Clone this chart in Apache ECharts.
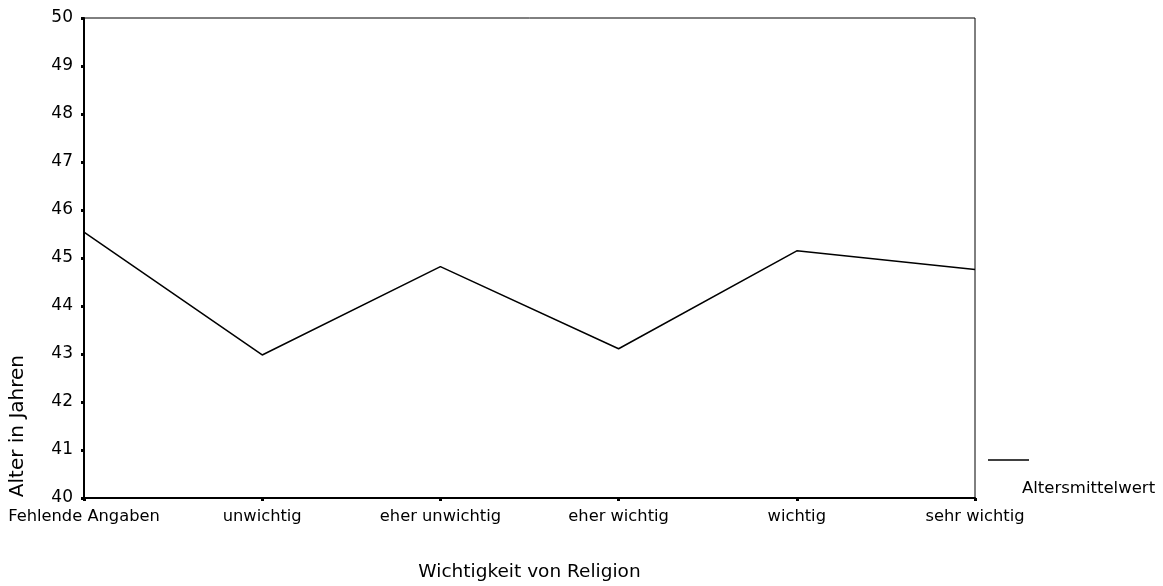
<!DOCTYPE html>
<html><head><meta charset="utf-8">
<script src="https://cdn.jsdelivr.net/npm/echarts@6/dist/echarts.min.js"></script>
<style>html,body{margin:0;padding:0;background:#fff}#c{width:1163px;height:586px}</style>
</head><body><div id="c"></div>
<script>
const categories = ['Fehlende Angaben','unwichtig','eher unwichtig','eher wichtig','wichtig','sehr wichtig'];
const altersmittelwert = [45.54, 42.98, 44.82, 43.11, 45.15, 44.76];
const seriesName = 'Altersmittelwert';
const FONT = 'DejaVu Sans';
const chart = echarts.init(document.getElementById('c'));
chart.setOption({
  animation:false,
  textStyle:{fontFamily:FONT},
  grid:{left:84,right:188,top:18,bottom:88,show:true,borderColor:'#000',borderWidth:1,
    containLabel:false,outerBoundsMode:'none'},
  xAxis:{type:'category',data:categories,boundaryGap:false,
    name:'Wichtigkeit von Religion',nameLocation:'middle',nameGap:65,
    nameTextStyle:{fontSize:18.5,color:'#000',fontFamily:FONT},
    axisLine:{lineStyle:{color:'#000',width:2}},
    axisTick:{show:true,length:3,lineStyle:{color:'#000',width:3}},
    axisLabel:{fontSize:16.3,color:'#000',margin:11,fontFamily:FONT,interval:0},
    splitLine:{show:false}},
  yAxis:{type:'value',min:40,max:50,interval:1,
    axisLine:{show:true,lineStyle:{color:'#000',width:2}},
    axisTick:{show:true,length:3,lineStyle:{color:'#000',width:3}},
    axisLabel:{fontSize:17,color:'#000',margin:11,fontFamily:FONT},
    splitLine:{show:false}},
  graphic:[
    {type:'text',left:8,top:355,rotation:Math.PI/2,
      style:{text:'Alter in Jahren',fontSize:20,fill:'#000',fontFamily:FONT}},
    {type:'line',shape:{x1:988,y1:460,x2:1029,y2:460},style:{stroke:'#000',lineWidth:1.5}},
    {type:'text',left:1022,top:480,style:{text:seriesName,fontSize:16.5,fill:'#000',fontFamily:FONT}}
  ],
  series:[{name:seriesName,type:'line',data:altersmittelwert,symbol:'none',
    lineStyle:{color:'#000',width:1.5}}]
});
</script></body></html>
